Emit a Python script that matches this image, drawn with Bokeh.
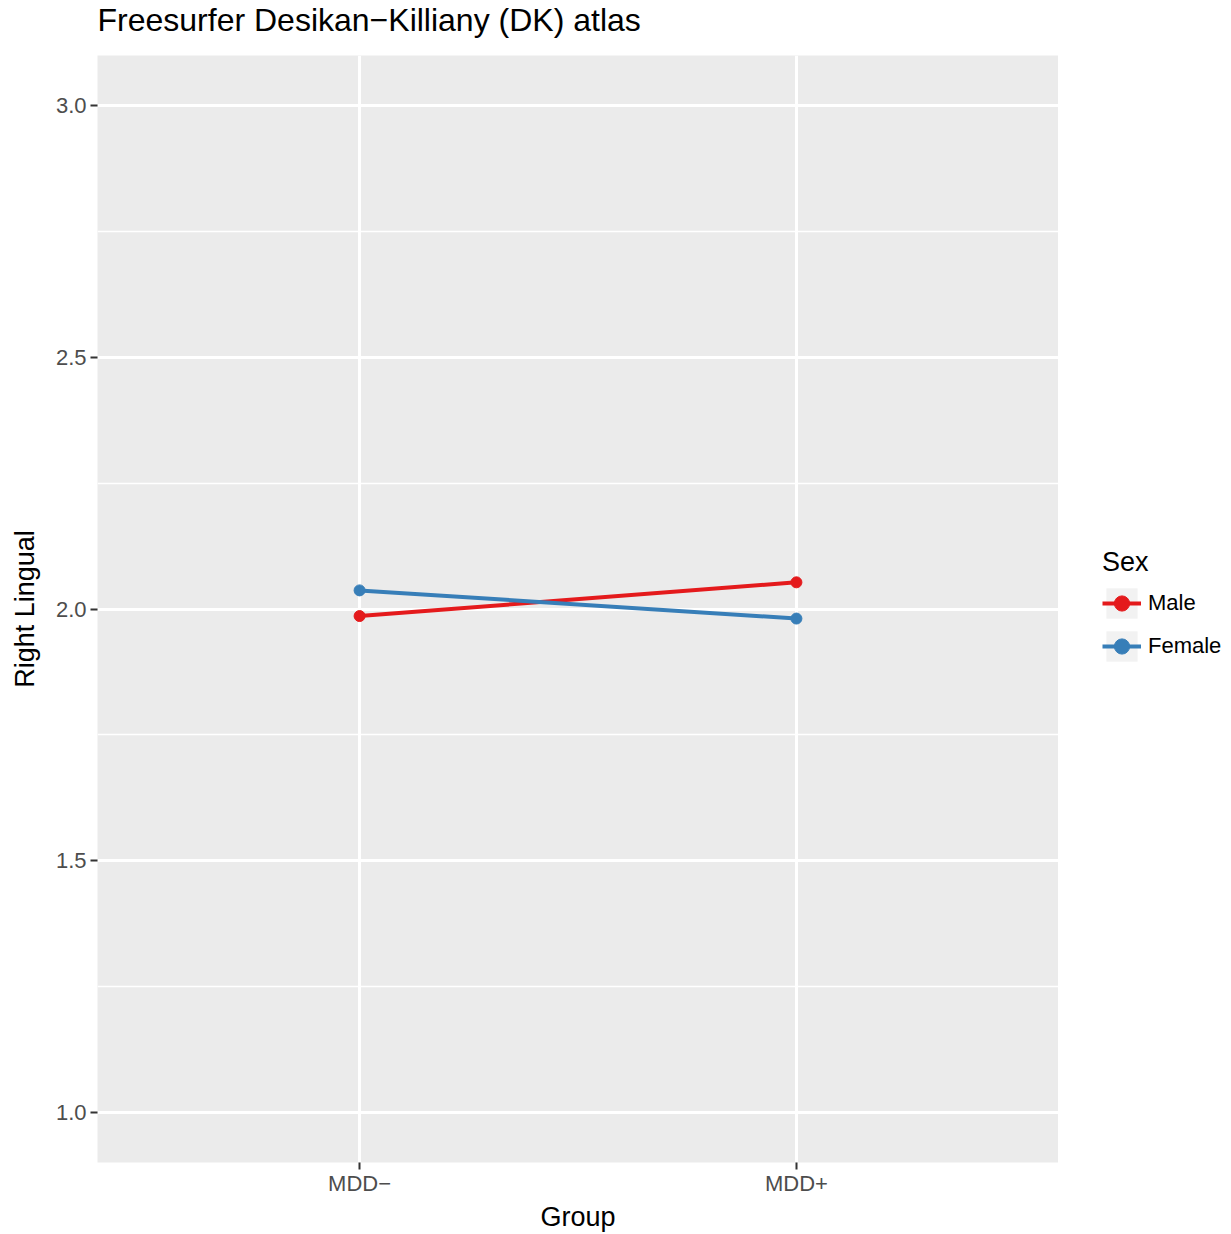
from bokeh.plotting import figure
from bokeh.layouts import row, column
from bokeh.models import (FactorRange, Range1d, SingleIntervalTicker, Legend, LegendItem,
                          NumeralTickFormatter, Label)
from bokeh.embed import file_html
from bokeh.resources import INLINE

groups = ["MDD\u2212", "MDD+"]
sexes = ["Male", "Female"]
male = [1.986, 2.053]
female = [2.037, 1.981]
series = [male, female]
colors = ["#e41a1c", "#377eb8"]
title = "Freesurfer Desikan\u2212Killiany (DK) atlas"
font = "Liberation Sans"


def blank(width, height):
    f = figure(width=width, height=height, x_range=Range1d(0, 1), y_range=Range1d(0, 1),
               output_backend="svg", toolbar_location=None,
               x_axis_location=None, y_axis_location=None,
               min_border_left=0, min_border_right=0, min_border_top=0, min_border_bottom=0)
    f.grid.visible = False
    f.outline_line_color = None
    f.background_fill_color = "white"
    f.border_fill_color = "white"
    return f


# title strip
t = blank(1231, 55)
t.add_layout(Label(x=97, y=36, x_units="screen", y_units="screen", text=title,
                   text_font=font, text_font_size="32px", text_color="black",
                   text_baseline="alphabetic", text_align="left"))

# main plot
p = figure(width=1058, height=1179,
           x_range=FactorRange(factors=groups, range_padding=0.1, range_padding_units="absolute"),
           y_range=Range1d(0.9, 3.1),
           output_backend="svg", toolbar_location=None,
           min_border_left=97, min_border_right=0, min_border_top=0, min_border_bottom=71)

p.background_fill_color = "#ebebeb"
p.border_fill_color = "white"
p.outline_line_color = None

p.yaxis.ticker = SingleIntervalTicker(interval=0.5, num_minor_ticks=2)
p.yaxis.formatter = NumeralTickFormatter(format="0.0")

for ax in (p.xaxis[0], p.yaxis[0]):
    ax.axis_line_color = None
    ax.major_tick_line_color = "#333333"
    ax.major_tick_line_width = 2
    ax.major_tick_out = 7
    ax.major_tick_in = 0
    ax.minor_tick_line_color = None
    ax.major_label_text_font = font
    ax.major_label_text_font_size = "22px"
    ax.major_label_text_color = "#4d4d4d"
    ax.axis_label_text_font = font
    ax.axis_label_text_font_size = "27px"
    ax.axis_label_text_font_style = "normal"
    ax.axis_label_text_color = "black"

p.xaxis.major_label_standoff = 1
p.xaxis.axis_label_standoff = 3
p.yaxis.major_label_standoff = 4
p.yaxis.axis_label_standoff = 13

p.xaxis.axis_label = "Group"
p.yaxis.axis_label = "Right Lingual"

p.xgrid.grid_line_color = "white"
p.xgrid.grid_line_width = 3
p.ygrid.grid_line_color = "white"
p.ygrid.grid_line_width = 3
p.ygrid.minor_grid_line_color = "white"
p.ygrid.minor_grid_line_width = 1.5

for name, vals, col in zip(sexes, series, colors):
    p.line(x=groups, y=vals, line_color=col, line_width=4)
    p.scatter(x=groups, y=vals, size=11, fill_color=col, line_color=col)

# legend panel (separate figure to the right, holding legend proxy glyphs)
q = blank(173, 1179)
nan = float("nan")
bg = q.quad(left=[nan], right=[nan], top=[nan], bottom=[nan], fill_color="#f2f2f2", line_color=None)
items = []
for name, col in zip(sexes, colors):
    ln = q.line(x=[nan], y=[nan], line_color=col, line_width=4)
    pt = q.scatter(x=[nan], y=[nan], size=11, fill_color=col, line_color=col)
    items.append(LegendItem(label=name, renderers=[bg, ln, pt]))

legend = Legend(items=items, title="Sex", location=(44, 497),
                title_text_font=font, title_text_font_size="27px", title_text_font_style="normal",
                title_text_color="black", title_standoff=6,
                label_text_font=font, label_text_font_size="22px", label_text_color="black",
                label_standoff=7, glyph_width=39, glyph_height=38, spacing=5,
                padding=0, margin=0, background_fill_alpha=0, border_line_color=None)
q.add_layout(legend, "center")

layout = column(t, row(p, q, spacing=0), spacing=0)
open("out.html", "w").write(file_html(layout, INLINE))
